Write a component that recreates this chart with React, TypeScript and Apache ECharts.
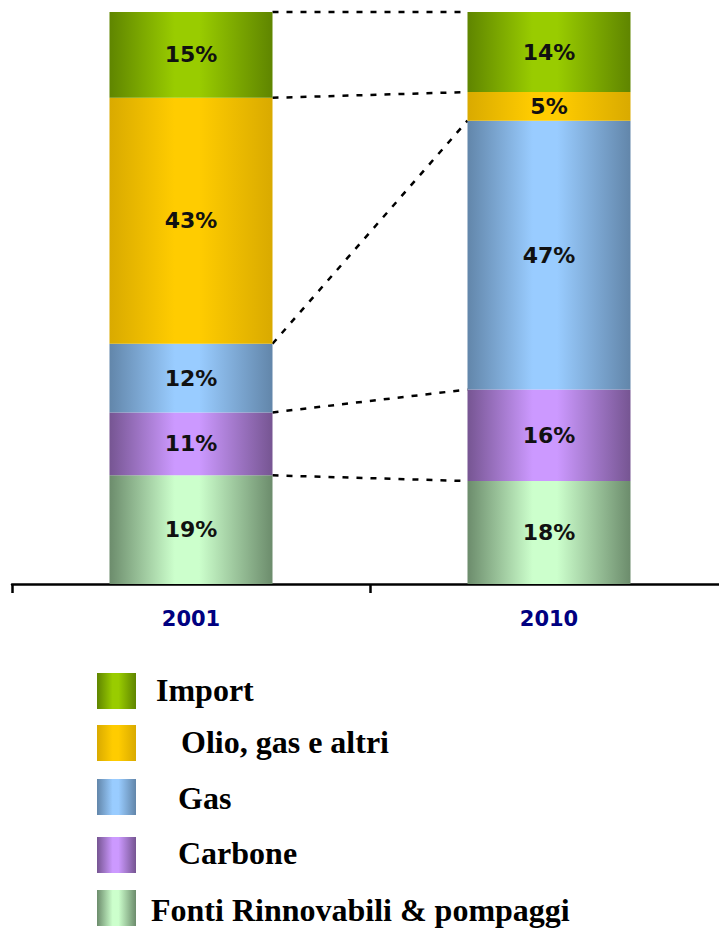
import React, { useEffect, useRef } from "react";
import * as echarts from "echarts";

const categories = ["2001", "2010"];
const seriesNames = [
  "Fonti Rinnovabili & pompaggi",
  "Carbone",
  "Gas",
  "Olio, gas e altri",
  "Import",
];
const fontiValues = [19, 18];
const carboneValues = [11, 16];
const gasValues = [12, 47];
const olioValues = [43, 5];
const importValues = [15, 14];

// [edge, center] colours of each series' gradient
const seriesColors: [string, string][] = [
  ["#6c8c6c", "#ccffcc"],
  ["#765592", "#cc99ff"],
  ["#6286aa", "#99ccff"],
  ["#d9aa00", "#ffcc00"],
  ["#5f8500", "#99cc00"],
];

const legendOrder = [4, 3, 2, 1, 0];
const legendIconTops = [673, 725, 779, 837, 890];
const legendTextX = [156, 181, 178, 178, 151];
const legendTextY = [690, 742, 798, 853, 910];

const BAR_WIDTH = 163;

function grad(edge: string, center: string) {
  return new echarts.graphic.LinearGradient(0, 0, 1, 0, [
    { offset: 0, color: edge },
    { offset: 0.4, color: center },
    { offset: 0.55, color: center },
    { offset: 1, color: edge },
  ]);
}

export default function App() {
  const ref = useRef<HTMLDivElement>(null);
  useEffect(() => {
    if (!ref.current) return;
    const chart = echarts.init(ref.current, undefined, { renderer: "svg" });
    const values = [fontiValues, carboneValues, gasValues, olioValues, importValues];

    // cumulative tops per series for the connector lines
    const cum = [0, 0];
    const lineData: number[][] = values.map((v) => {
      cum[0] += v[0];
      cum[1] += v[1];
      return [0, cum[0], cum[1]];
    });

    const barSeries = values.map((v, i) => ({
      name: seriesNames[i],
      type: "bar",
      stack: "total",
      barWidth: BAR_WIDTH,
      data: v,
      itemStyle: { color: grad(seriesColors[i][0], seriesColors[i][1]) },
      label: {
        show: true,
        position: "inside",
        formatter: "{c}%",
        fontFamily: "DejaVu Sans",
        fontWeight: "bold",
        fontSize: 22,
        color: "#111",
      },
    }));

    const graphics: any[] = [];
    legendOrder.forEach((si, k) => {
      graphics.push({
        type: "rect",
        shape: { x: 97, y: legendIconTops[k], width: 39, height: 36 },
        style: { fill: grad(seriesColors[si][0], seriesColors[si][1]) },
      });
      graphics.push({
        type: "text",
        x: legendTextX[k],
        y: legendTextY[k],
        style: {
          text: seriesNames[si],
          fontFamily: "Liberation Serif",
          fontWeight: "bold",
          fontSize: 32,
          fill: "#000",
          verticalAlign: "middle",
          align: "left",
        },
      });
    });

    chart.setOption({
      animation: false,
      grid: { left: 12, top: 12, width: 716, height: 572, containLabel: false },
      xAxis: {
        type: "category",
        data: categories,
        axisLine: { show: true, lineStyle: { color: "#000", width: 2.5 } },
        axisTick: { show: true, length: 9, lineStyle: { color: "#000", width: 2.5 } },
        axisLabel: {
          color: "#000080",
          fontFamily: "DejaVu Sans",
          fontWeight: "bold",
          fontSize: 21,
          margin: 24,
        },
      },
      yAxis: { type: "value", min: 0, max: 100, show: false },
      series: [
        ...barSeries,
        {
          type: "custom",
          data: lineData,
          encode: { x: 0, y: [1, 2] },
          silent: true,
          renderItem: (params: any, api: any) => {
            const p1 = api.coord([0, api.value(1)]);
            const p2 = api.coord([1, api.value(2)]);
            return {
              type: "line",
              shape: {
                x1: p1[0] + BAR_WIDTH / 2,
                y1: p1[1],
                x2: p2[0] - BAR_WIDTH / 2,
                y2: p2[1],
              },
              style: { stroke: "#000", lineWidth: 2.5, lineDash: [6, 8] },
            };
          },
        },
      ],
      graphic: graphics,
    });
    return () => chart.dispose();
  }, []);
  return (
    <div
      style={{
        position: "absolute",
        left: 0,
        top: 0,
        width: 719,
        height: 932,
        overflow: "hidden",
      }}
    >
      <div ref={ref} style={{ width: 730, height: 932 }} />
    </div>
  );
}
